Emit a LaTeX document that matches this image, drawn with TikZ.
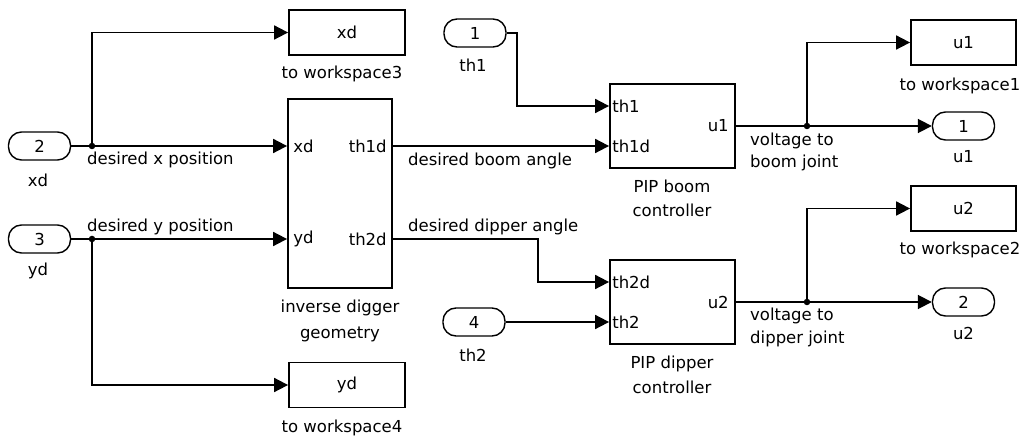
\documentclass[tikz,border=0pt]{standalone}
\usepackage{fontspec}
\setmainfont{DejaVu Sans}
\usetikzlibrary{arrows.meta,calc}
\begin{document}
\begin{tikzpicture}[x=1pt,y=-1pt, font=\fontsize{16.5}{19}\selectfont,
 blk/.style={draw, line width=1.8pt, inner sep=0pt},
 io/.style={draw, line width=1.4pt, rounded corners=13pt, minimum width=62pt, minimum height=28pt, inner sep=0pt},
 sig/.style={line width=1.8pt},
 arr/.style={sig, -{Triangle[length=14pt,width=14pt]}},
 lbl/.style={anchor=base, inner sep=0pt},
 slbl/.style={anchor=base west, inner sep=0pt},
 plbl/.style={inner sep=0pt},
 dot/.style={circle, fill, inner sep=0pt, minimum size=6.5pt}]
\useasboundingbox (0,0) rectangle (1031,438);

% blocks
\node[blk, minimum width=116pt, minimum height=45pt] (ws3) at (347,32.5) {xd};
\node[blk, minimum width=116pt, minimum height=45pt] (ws4) at (347,385) {yd};
\node[blk, minimum width=104pt, minimum height=189pt] (inv) at (340,193.5) {};
\node[blk, minimum width=125pt, minimum height=84pt] (boom) at (672.5,126) {};
\node[blk, minimum width=125pt, minimum height=84pt] (dip) at (672.5,302) {};
\node[blk, minimum width=105pt, minimum height=45pt] (ws1) at (963.5,42.5) {u1};
\node[blk, minimum width=105pt, minimum height=45pt] (ws2) at (963.5,208.5) {u2};

% in/out ports
\node[io] (in2) at (39.5,146) {2};
\node[io] (in3) at (39.5,239) {3};
\node[io] (in1) at (475,33) {1};
\node[io] (in4) at (474,322) {4};
\node[io] (out1) at (963.5,126) {1};
\node[io] (out2) at (963.5,302) {2};

% port coordinates
\coordinate (invxd) at (inv.west |- 0,146);
\coordinate (invyd) at (inv.west |- 0,239);
\coordinate (invth1d) at (inv.east |- 0,146);
\coordinate (invth2d) at (inv.east |- 0,239);
\coordinate (boomth1) at (boom.west |- 0,106);
\coordinate (boomth1d) at (boom.west |- 0,146);
\coordinate (dipth2d) at (dip.west |- 0,282);
\coordinate (dipth2) at (dip.west |- 0,322);

% port labels
\node[plbl, anchor=west] (pxd) at ($(invxd)+(6,0)$) {xd};
\node[plbl, anchor=west] (pyd) at ($(invyd)+(6,0)$) {yd};
\node[plbl, anchor=east] (pth1d) at ($(invth1d)+(-6,0)$) {th1d};
\node[plbl, anchor=east] (pth2d) at ($(invth2d)+(-6,0)$) {th2d};
\node[plbl, anchor=west] (bth1) at ($(boomth1)+(3,0)$) {th1};
\node[plbl, anchor=west] (bth1d) at ($(boomth1d)+(3,0)$) {th1d};
\node[plbl, anchor=east] (bu1) at ($(boom.east)+(-7,0)$) {u1};
\node[plbl, anchor=west] (dth2d) at ($(dipth2d)+(3,0)$) {th2d};
\node[plbl, anchor=west] (dth2) at ($(dipth2)+(3,0)$) {th2};
\node[plbl, anchor=east] (du2) at ($(dip.east)+(-7,0)$) {u2};

% junctions and bends
\node[dot] (j1) at (92,146) {};
\node[dot] (j2) at (92,239) {};
\node[dot] (j3) at (807,126) {};
\node[dot] (j4) at (807,302) {};
\coordinate (k1) at (517,106);
\coordinate (k2) at (538,282);

% connectors
\draw[sig] (in2.east) -- (j1.center);
\draw[arr] (j1.center) |- (ws3.west);
\draw[arr] (j1.center) -- (invxd);
\draw[sig] (in3.east) -- (j2.center);
\draw[arr] (j2.center) -- (invyd);
\draw[arr] (j2.center) |- (ws4.west);
\draw[arr] (in1.east) -| (k1) -- (boomth1);
\draw[arr] (invth1d) -- (boomth1d);
\draw[arr] (invth2d) -| (k2) -- (dipth2d);
\draw[arr] (in4.east) -- (dipth2);
\draw[sig] (boom.east) -- (j3.center);
\draw[arr] (j3.center) |- (ws1.west);
\draw[arr] (j3.center) -- (out1.west);
\draw[sig] (dip.east) -- (j4.center);
\draw[arr] (j4.center) |- (ws2.west);
\draw[arr] (j4.center) -- (out2.west);

% block labels
\node[lbl] (l1) at (38,187) {xd};
\node[lbl] (l2) at (38,276) {yd};
\node[lbl] (l3) at (473,72) {th1};
\node[lbl] (l4) at (473,361) {th2};
\node[lbl] (l5) at (342,79) {to workspace3};
\node[lbl] (l6) at (342,432) {to workspace4};
\node[lbl] (l7) at (340,313) {inverse digger};
\node[lbl] (l8) at (340,338) {geometry};
\node[lbl] (l9) at (672,193) {PIP boom};
\node[lbl] (l10) at (672,217) {controller};
\node[lbl] (l11) at (672,368) {PIP dipper};
\node[lbl] (l12) at (672,393) {controller};
\node[lbl] (l13) at (960,91) {to workspace1};
\node[lbl] (l14) at (963.5,163) {u1};
\node[lbl] (l15) at (960,255) {to workspace2};
\node[lbl] (l16) at (963.5,340) {u2};

% signal labels
\node[slbl] (s1) at (87,165) {desired x position};
\node[slbl] (s2) at (87,232) {desired y position};
\node[slbl] (s3) at (408,166) {desired boom angle};
\node[slbl] (s4) at (408,232) {desired dipper angle};
\node[slbl] (s5) at (750,146) {voltage to};
\node[slbl] (s6) at (750,168) {boom joint};
\node[slbl] (s7) at (750,321) {voltage to};
\node[slbl] (s8) at (750,344) {dipper joint};
\end{tikzpicture}
\end{document}
